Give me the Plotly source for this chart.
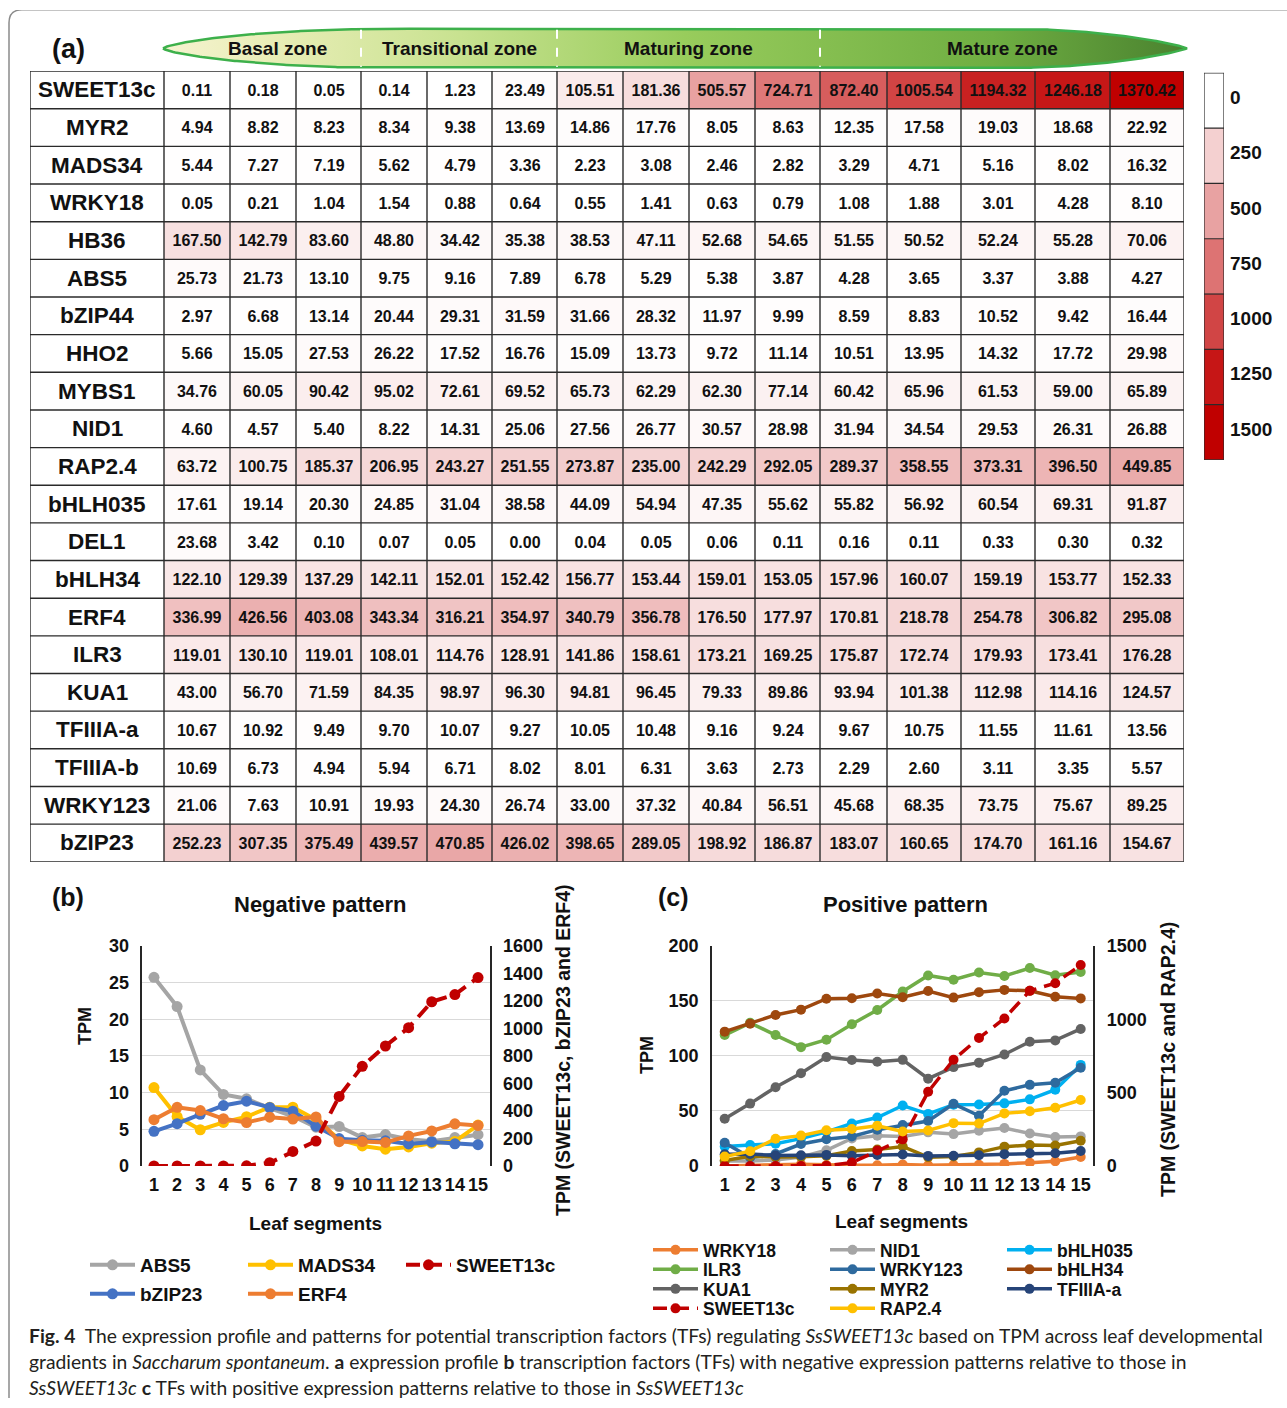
import numpy as np
import plotly.graph_objects as go

# ------------------------------------------------------------------ data
SEGMENTS = list(range(1, 16))

GENE_NAMES = ["SWEET13c", "MYR2", "MADS34", "WRKY18", "HB36", "ABS5", "bZIP44", "HHO2",
              "MYBS1", "NID1", "RAP2.4", "bHLH035", "DEL1", "bHLH34", "ERF4", "ILR3",
              "KUA1", "TFIIIA-a", "TFIIIA-b", "WRKY123", "bZIP23"]

SWEET13C = [0.11, 0.18, 0.05, 0.14, 1.23, 23.49, 105.51, 181.36, 505.57, 724.71, 872.40, 1005.54, 1194.32, 1246.18, 1370.42]
MYR2 = [4.94, 8.82, 8.23, 8.34, 9.38, 13.69, 14.86, 17.76, 8.05, 8.63, 12.35, 17.58, 19.03, 18.68, 22.92]
MADS34 = [5.44, 7.27, 7.19, 5.62, 4.79, 3.36, 2.23, 3.08, 2.46, 2.82, 3.29, 4.71, 5.16, 8.02, 16.32]
WRKY18 = [0.05, 0.21, 1.04, 1.54, 0.88, 0.64, 0.55, 1.41, 0.63, 0.79, 1.08, 1.88, 3.01, 4.28, 8.10]
HB36 = [167.50, 142.79, 83.60, 48.80, 34.42, 35.38, 38.53, 47.11, 52.68, 54.65, 51.55, 50.52, 52.24, 55.28, 70.06]
ABS5 = [25.73, 21.73, 13.10, 9.75, 9.16, 7.89, 6.78, 5.29, 5.38, 3.87, 4.28, 3.65, 3.37, 3.88, 4.27]
BZIP44 = [2.97, 6.68, 13.14, 20.44, 29.31, 31.59, 31.66, 28.32, 11.97, 9.99, 8.59, 8.83, 10.52, 9.42, 16.44]
HHO2 = [5.66, 15.05, 27.53, 26.22, 17.52, 16.76, 15.09, 13.73, 9.72, 11.14, 10.51, 13.95, 14.32, 17.72, 29.98]
MYBS1 = [34.76, 60.05, 90.42, 95.02, 72.61, 69.52, 65.73, 62.29, 62.30, 77.14, 60.42, 65.96, 61.53, 59.00, 65.89]
NID1 = [4.60, 4.57, 5.40, 8.22, 14.31, 25.06, 27.56, 26.77, 30.57, 28.98, 31.94, 34.54, 29.53, 26.31, 26.88]
RAP2_4 = [63.72, 100.75, 185.37, 206.95, 243.27, 251.55, 273.87, 235.00, 242.29, 292.05, 289.37, 358.55, 373.31, 396.50, 449.85]
BHLH035 = [17.61, 19.14, 20.30, 24.85, 31.04, 38.58, 44.09, 54.94, 47.35, 55.62, 55.82, 56.92, 60.54, 69.31, 91.87]
DEL1 = [23.68, 3.42, 0.10, 0.07, 0.05, 0.00, 0.04, 0.05, 0.06, 0.11, 0.16, 0.11, 0.33, 0.30, 0.32]
BHLH34 = [122.10, 129.39, 137.29, 142.11, 152.01, 152.42, 156.77, 153.44, 159.01, 153.05, 157.96, 160.07, 159.19, 153.77, 152.33]
ERF4 = [336.99, 426.56, 403.08, 343.34, 316.21, 354.97, 340.79, 356.78, 176.50, 177.97, 170.81, 218.78, 254.78, 306.82, 295.08]
ILR3 = [119.01, 130.10, 119.01, 108.01, 114.76, 128.91, 141.86, 158.61, 173.21, 169.25, 175.87, 172.74, 179.93, 173.41, 176.28]
KUA1 = [43.00, 56.70, 71.59, 84.35, 98.97, 96.30, 94.81, 96.45, 79.33, 89.86, 93.94, 101.38, 112.98, 114.16, 124.57]
TFIIIA_A = [10.67, 10.92, 9.49, 9.70, 10.07, 9.27, 10.05, 10.48, 9.16, 9.24, 9.67, 10.75, 11.55, 11.61, 13.56]
TFIIIA_B = [10.69, 6.73, 4.94, 5.94, 6.71, 8.02, 8.01, 6.31, 3.63, 2.73, 2.29, 2.60, 3.11, 3.35, 5.57]
WRKY123 = [21.06, 7.63, 10.91, 19.93, 24.30, 26.74, 33.00, 37.32, 40.84, 56.51, 45.68, 68.35, 73.75, 75.67, 89.25]
BZIP23 = [252.23, 307.35, 375.49, 439.57, 470.85, 426.02, 398.65, 289.05, 198.92, 186.87, 183.07, 160.65, 174.70, 161.16, 154.67]

HEAT_ROWS = [SWEET13C, MYR2, MADS34, WRKY18, HB36, ABS5, BZIP44, HHO2, MYBS1, NID1, RAP2_4,
             BHLH035, DEL1, BHLH34, ERF4, ILR3, KUA1, TFIIIA_A, TFIIIA_B, WRKY123, BZIP23]

ZONES = ["Basal zone", "Transitional zone", "Maturing zone", "Mature zone"]
ZONE_COLS = [3, 3, 4, 5]
CBAR_TICKS = [0, 250, 500, 750, 1000, 1250, 1500]

# panel (b): the yellow "MADS34" curve in the picture follows the TFIIIA-b row
NEG_LINES = [("ABS5", ABS5, "#A5A5A5", "left", "legend"),
             ("MADS34", TFIIIA_B, "#FFC000", "left", "legend"),
             ("bZIP23", BZIP23, "#4472C4", "right", "legend2"),
             ("ERF4", ERF4, "#ED7D31", "right", "legend2"),
             ("SWEET13c", SWEET13C, "#C00000", "right", "legend")]
POS_LINES = [("WRKY18", WRKY18, "#ED7D31", "left", "legend3"),
             ("NID1", NID1, "#A5A5A5", "left", "legend3"),
             ("bHLH035", BHLH035, "#00B0F0", "left", "legend3"),
             ("ILR3", ILR3, "#70AD47", "left", "legend4"),
             ("WRKY123", WRKY123, "#2E6A9E", "left", "legend4"),
             ("bHLH34", BHLH34, "#9E480E", "left", "legend4"),
             ("KUA1", KUA1, "#636363", "left", "legend5"),
             ("MYR2", MYR2, "#997300", "left", "legend5"),
             ("TFIIIA-a", TFIIIA_A, "#264478", "left", "legend5"),
             ("SWEET13c", SWEET13C, "#C00000", "right", "legend6"),
             ("RAP2.4", RAP2_4, "#FFC000", "right", "legend6")]

# ------------------------------------------------------------------ layout constants
W, H = 1287, 1408
# vertical mapping from target-picture pixels to page pixels
Y_OFF, Y_SCALE = 10.14, 0.9857
FONT = "Liberation Sans, Arial, sans-serif"
CAP_FONT = "Lato, Open Sans, sans-serif"
TABLE_L, LABEL_W = 30, 134
COL_W = [66, 66, 65, 66, 65, 65, 66, 66, 66, 65, 67, 74, 74, 75, 74]
TABLE_T, TABLE_B = 71.2, 861.8
col_edges = list(TABLE_L + LABEL_W + np.concatenate([[0], np.cumsum(COL_W)]))
TABLE_R = col_edges[-1]
HEAT_SCALE = [[0, "#FFFFFF"], [1, "#C00000"]]
ZMAX = max(max(r) for r in HEAT_ROWS)


def fx(p):
    return p / W


def fy(p):
    return 1 - ((p - Y_OFF) / Y_SCALE) / H


fig = go.Figure()

# ---------------------------------------------------------------- (a) heatmap
fig.add_trace(go.Heatmap(
    z=HEAT_ROWS, x=col_edges, y=list(range(len(GENE_NAMES))),
    colorscale=HEAT_SCALE, zmin=0, zmax=ZMAX, showscale=False,
    texttemplate="%{z:.2f}",
    textfont=dict(family=FONT, size=16, color="#111111", weight="bold"),
    hoverinfo="skip", xaxis="x", yaxis="y"))

shapes = []
nrows = len(GENE_NAMES)
for xe in [TABLE_L] + col_edges:
    shapes.append(dict(type="line", xref="x", yref="y", x0=xe, x1=xe, y0=-0.5, y1=nrows - 0.5,
                       line=dict(color="#2A2A2A", width=1.4), layer="above"))
for r in range(nrows + 1):
    shapes.append(dict(type="line", xref="x", yref="y", x0=TABLE_L, x1=TABLE_R, y0=r - 0.5, y1=r - 0.5,
                       line=dict(color="#2A2A2A", width=1.4), layer="above"))

annotations = []
for i, g in enumerate(GENE_NAMES):
    annotations.append(dict(text="<b>%s</b>" % g, xref="x", yref="y", x=TABLE_L + LABEL_W / 2, y=i,
                            showarrow=False, font=dict(family=FONT, size=22.5, color="#111111")))

# colour key
fig.add_trace(go.Heatmap(
    z=[[v] for v in CBAR_TICKS], x=[0], y=list(range(len(CBAR_TICKS))),
    colorscale=HEAT_SCALE, zmin=0, zmax=ZMAX, showscale=False, hoverinfo="skip",
    xaxis="x4", yaxis="y6"))
for k in range(len(CBAR_TICKS) + 1):
    shapes.append(dict(type="line", xref="x4", yref="y6", x0=-0.5, x1=0.5, y0=k - 0.5, y1=k - 0.5,
                       line=dict(color="#2A2A2A", width=1.2), layer="above"))
for xe in (-0.5, 0.5):
    shapes.append(dict(type="line", xref="x4", yref="y6", x0=xe, x1=xe, y0=-0.5, y1=len(CBAR_TICKS) - 0.5,
                       line=dict(color="#2A2A2A", width=1.2), layer="above"))
CB_T, CB_B = 73, 460
cb_h = (CB_B - CB_T) / len(CBAR_TICKS)
for k, v in enumerate(CBAR_TICKS):
    annotations.append(dict(text="<b>%d</b>" % v, xref="x5", yref="y7", x=1228, y=CB_T + cb_h * (k + 0.5) - 3,
                            xanchor="left", showarrow=False, font=dict(family=FONT, size=19, color="#111111")))

# zone header (leaf-shaped band)
x0, x1 = 163, 1187
cy, hh = 48.5, 19.5
xs = np.linspace(x0, x1, 500)
f = np.ones_like(xs)
xa, xb = 390, 1010
lm = xs < xa
f[lm] = np.clip(1 - ((xa - xs[lm]) / (xa - x0)) ** 2, 0, 1) ** 0.7
rm = xs > xb
f[rm] = np.clip(1 - ((xs[rm] - xb) / (x1 - xb)) ** 2, 0, 1) ** 0.85
leaf_x = np.concatenate([xs, xs[::-1]])
leaf_y = np.concatenate([cy - hh * f, (cy + hh * f)[::-1]])
fig.add_trace(go.Scatter(
    x=leaf_x, y=leaf_y, mode="lines", fill="toself",
    fillgradient=dict(type="horizontal",
                      colorscale=[[0, "#F6F3D0"], [0.11, "#E8EDB6"], [0.29, "#C8E290"],
                                  [0.51, "#98CC5C"], [0.81, "#6FAE42"], [1, "#4A822F"]]),
    line=dict(color="#3DB04B", width=2.5), hoverinfo="skip", showlegend=False,
    xaxis="x5", yaxis="y7"))
zone_starts = np.concatenate([[0], np.cumsum(ZONE_COLS)])
for z in range(len(ZONES)):
    a = col_edges[zone_starts[z]]
    b = col_edges[zone_starts[z + 1]]
    cx = (a + b) / 2 + (15 if z == 0 else 0)
    annotations.append(dict(text="<b>%s</b>" % ZONES[z], xref="x5", yref="y7", x=cx, y=cy,
                            showarrow=False, font=dict(family=FONT, size=19, color="#111111")))
    if z > 0:
        shapes.append(dict(type="line", xref="x5", yref="y7", x0=a, x1=a, y0=cy - hh + 1, y1=cy + hh - 1,
                           line=dict(color="white", width=2, dash="dash"), layer="above"))

annotations.append(dict(text="<b>(a)</b>", xref="x5", yref="y7", x=68, y=49, showarrow=False,
                        font=dict(family=FONT, size=27, color="#111111")))

# ---------------------------------------------------------------- (b) & (c) line charts
def add_lines(spec, xa_, yl, yr, width, msize):
    for name, vals, color, side, leg in spec:
        dashed = name == "SWEET13c"
        fig.add_trace(go.Scatter(
            x=SEGMENTS, y=vals, name=name, mode="lines+markers",
            line=dict(color=color, width=width, dash="14px,8px" if dashed else "solid"),
            marker=dict(color=color, size=msize, symbol="circle"),
            xaxis=xa_, yaxis=yl if side == "left" else yr, legend=leg, hoverinfo="skip"))


add_lines([s for s in NEG_LINES if s[3] == "left"] + [s for s in NEG_LINES if s[3] == "right"],
          "x2", "y2", "y3", 4, 11)
add_lines([s for s in POS_LINES if s[3] == "left"] + [s for s in POS_LINES if s[3] == "right"],
          "x3", "y4", "y5", 3.5, 10)

tickf = dict(family=FONT, size=18, color="#111111", weight="bold")
PLOT_T, PLOT_B = 946, 1166
B_L, B_R = 142.4, 489.6
C_L, C_R = 712, 1093.4


def xax(l, r, anchor):
    return dict(domain=[fx(l), fx(r)], range=[0.5, 15.5], anchor=anchor, tickvals=SEGMENTS,
                tickfont=tickf, showgrid=False, showline=False, zeroline=False, ticks="",
                ticklabelstandoff=6, fixedrange=True)


def yleft(anchor, rng, dt):
    return dict(domain=[fy(PLOT_B), fy(PLOT_T)], range=rng, dtick=dt, tick0=0, anchor=anchor,
                showgrid=True, gridcolor="#D9D9D9", gridwidth=1.2, showline=True, linecolor="#262626",
                linewidth=1.5, zeroline=False, ticks="", tickfont=tickf, ticklabelstandoff=8,
                fixedrange=True)


def yright(anchor, over, rng, dt):
    return dict(overlaying=over, side="right", anchor=anchor, range=rng, dtick=dt, tick0=0,
                showgrid=False, showline=True, linecolor="#262626", linewidth=1.5, zeroline=False,
                ticks="", tickfont=tickf, ticklabelstandoff=8, fixedrange=True)


def txt(s, x, y, size, angle=0, anchor="center"):
    annotations.append(dict(text=s, xref="x5", yref="y7", x=x, y=y, showarrow=False, textangle=angle,
                            xanchor=anchor, font=dict(family=FONT, size=size, color="#111111")))


txt("<b>(b)</b>", 68, 897, 25)
txt("<b>Negative pattern</b>", 320, 905, 22)
txt("<b>TPM</b>", 85, 1026, 18, -90)
txt("<b>TPM (SWEET13c, bZIP23 and ERF4)</b>", 563, 1050, 19.5, -90)
txt("<b>Leaf segments</b>", 315, 1224, 19)

txt("<b>(c)</b>", 673, 897, 25)
txt("<b>Positive pattern</b>", 905, 905, 22)
txt("<b>TPM</b>", 647, 1055, 18, -90)
txt("<b>TPM (SWEET13c and RAP2.4)</b>", 1168, 1060, 19.5, -90)
txt("<b>Leaf segments</b>", 901, 1222, 19)

# caption
CAP = ["<b>Fig. 4</b>  The expression profile and patterns for potential transcription factors (TFs) regulating "
       "<i>SsSWEET13c</i> based on TPM across leaf developmental",
       "gradients in <i>Saccharum spontaneum</i>. <b>a</b> expression profile <b>b</b> transcription factors (TFs) "
       "with negative expression patterns relative to those in",
       "<i>SsSWEET13c</i> <b>c</b> TFs with positive expression patterns relative to those in <i>SsSWEET13c</i>"]
for i, line in enumerate(CAP):
    annotations.append(dict(text=line, xref="x5", yref="y7", x=27, y=1336 + 26 * i, xanchor="left",
                            showarrow=False, font=dict(family=CAP_FONT, size=19.3, color="#231F20")))

# outer rounded frame (bottom edge runs off the page, as in the target)
shapes.append(dict(type="path", xref="x5", yref="y7",
                   path="M 1290,10 L 22,10 Q 9,10 9,23 L 9,1412",
                   line=dict(color="#8A8A8A", width=1.5), layer="above"))

legf = dict(family=FONT, size=17, color="#111111", weight="bold")


def leg(x, y, ew, size=19):
    return dict(orientation="h", x=fx(x), y=fy(y), xanchor="left", yanchor="middle",
                font=dict(legf, size=size),
                itemwidth=45, entrywidth=ew, entrywidthmode="pixels", bgcolor="rgba(0,0,0,0)",
                traceorder="normal", tracegroupgap=0)


fig.update_layout(
    width=W, height=H, autosize=False,
    margin=dict(l=0, r=0, t=0, b=0, pad=0),
    paper_bgcolor="white", plot_bgcolor="rgba(0,0,0,0)",
    showlegend=True,
    xaxis=dict(domain=[fx(TABLE_L), fx(TABLE_R)], range=[TABLE_L, TABLE_R], visible=False, anchor="y",
               fixedrange=True),
    yaxis=dict(domain=[fy(TABLE_B), fy(TABLE_T)], range=[nrows - 0.5, -0.5], visible=False, anchor="x",
               fixedrange=True),
    xaxis2=xax(B_L, B_R, "y2"),
    yaxis2=yleft("x2", [0, 30], 5),
    yaxis3=yright("x2", "y2", [0, 1600], 200),
    xaxis3=xax(C_L, C_R, "y4"),
    yaxis4=yleft("x3", [0, 200], 50),
    yaxis5=yright("x3", "y4", [0, 1500], 500),
    xaxis4=dict(domain=[fx(1204), fx(1224)], range=[-0.5, 0.5], visible=False, anchor="y6"),
    yaxis6=dict(domain=[fy(CB_B), fy(CB_T)], range=[len(CBAR_TICKS) - 0.5, -0.5], visible=False, anchor="x4"),
    xaxis5=dict(domain=[0, 1], range=[0, W], visible=False, anchor="y7", fixedrange=True),
    yaxis7=dict(domain=[0, 1], range=[Y_OFF + H * Y_SCALE, Y_OFF], visible=False, anchor="x5",
                fixedrange=True),
    legend=leg(85, 1265, 98),
    legend2=leg(85, 1294, 98),
    legend3=leg(648, 1250, 117, 17.5),
    legend4=leg(648, 1269.5, 117, 17.5),
    legend5=leg(648, 1289, 117, 17.5),
    legend6=leg(648, 1308.5, 117, 17.5),
    shapes=shapes,
    annotations=annotations,
)

fig.write_html("out.html", config={"displayModeBar": False},
               post_script="document.body.style.margin='0px';document.body.style.overflow='hidden';")
